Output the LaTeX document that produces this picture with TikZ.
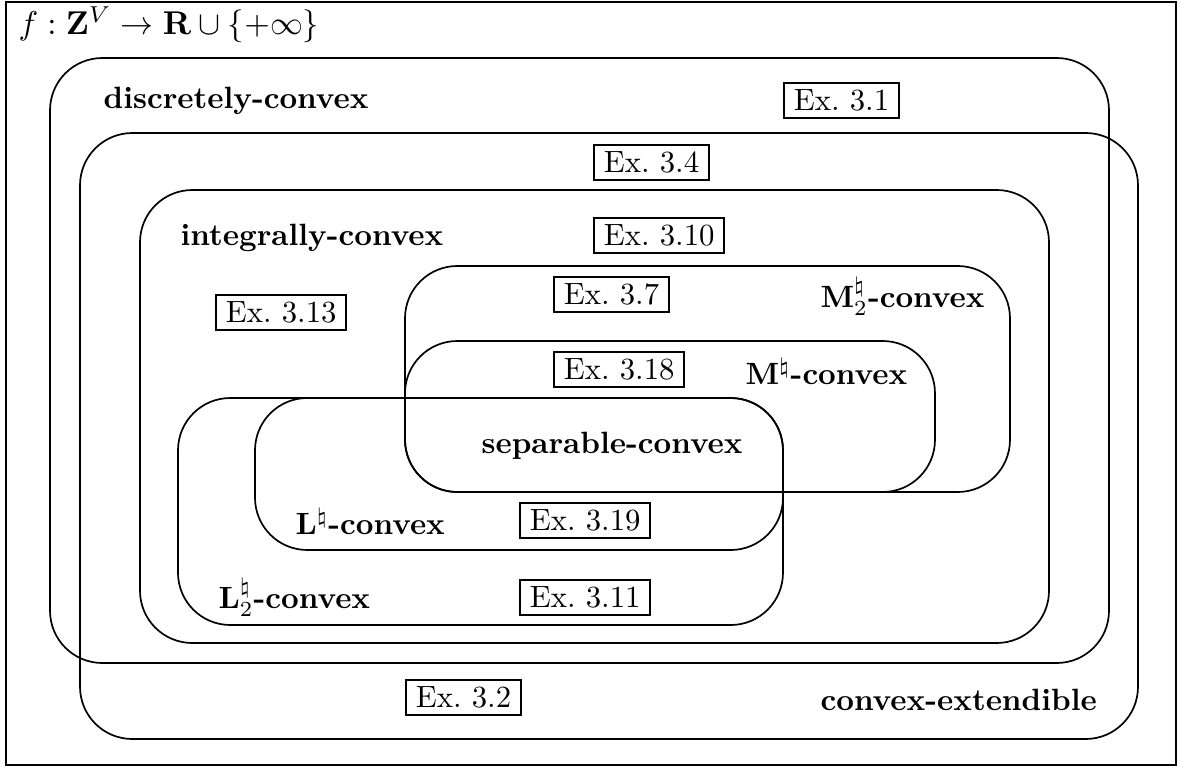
\documentclass[tikz,border=0pt]{standalone}
\usepackage{amsmath,amssymb}
\begin{document}
\begin{tikzpicture}[x=0.325pt,y=-0.325pt,
  setbox/.style={draw, line width=0.55pt, rounded corners=17pt},
  lbl/.style={font=\bfseries, anchor=west, inner sep=0pt},
  exbox/.style={draw, line width=0.65pt, inner xsep=3.2pt, inner ysep=2.2pt, anchor=west}]
\useasboundingbox (0,0) rectangle (1181,769);
\draw[line width=0.65pt] (6,2) rectangle (1176,765);
\node[anchor=west, inner sep=0pt, scale=1.07] (title) at (18,25) {$f:\mathbf{Z}^V\to\mathbf{R}\cup\{+\infty\}$};
% sets
\draw[setbox] (50,58) rectangle (1109,663);   % discretely-convex
\draw[setbox] (80,133) rectangle (1138,739);  % convex-extendible
\draw[setbox] (140,190) rectangle (1049,643); % integrally-convex
\draw[setbox] (405,266) rectangle (1010,492); % M2-convex
\draw[setbox] (405,341) rectangle (935,492);  % M-convex
\draw[setbox] (178,398) rectangle (783,625);  % L2-convex
\draw[setbox] (255,398) rectangle (783,550);  % L-convex
% labels
\node[lbl] (dc) at (103,101) {discretely-convex};
\node[lbl] (ce) at (820,700) {convex-extendible};
\node[lbl] (ic) at (180,238) {integrally-convex};
\node[lbl] (m2) at (820,297) {M$^{\natural}_{2}$-convex};
\node[lbl] (m1) at (745,372) {M$^{\natural}$-convex};
\node[lbl] (sc) at (481,446) {separable-convex};
\node[lbl] (l1) at (295,522) {L$^{\natural}$-convex};
\node[lbl] (l2) at (218,598) {L$^{\natural}_{2}$-convex};
% examples
\node[exbox] (e31) at (783,100.5) {Ex.~3.1};
\node[exbox] (e34) at (593,162.5) {Ex.~3.4};
\node[exbox] (e310) at (593,235.5) {Ex.~3.10};
\node[exbox] (e313) at (215,312.5) {Ex.~3.13};
\node[exbox] (e37) at (553,294.5) {Ex.~3.7};
\node[exbox] (e318) at (553,369.5) {Ex.~3.18};
\node[exbox] (e319) at (519,520.5) {Ex.~3.19};
\node[exbox] (e311) at (519,597.5) {Ex.~3.11};
\node[exbox] (e32) at (405,697.5) {Ex.~3.2};
\end{tikzpicture}
\end{document}
